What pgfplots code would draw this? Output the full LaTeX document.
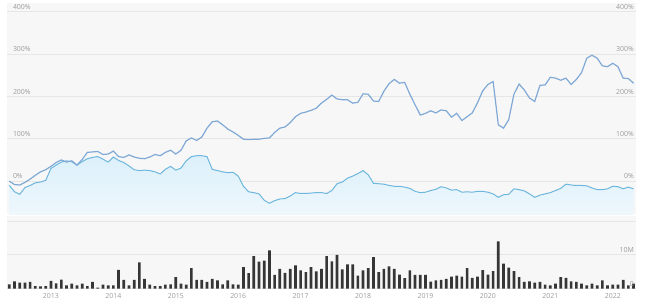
\documentclass[border=0pt]{standalone}
\usepackage{pgfplots}
\usepackage{pgfplotstable}
\pgfplotsset{compat=1.18}
\usepackage{fontspec}
\setmainfont{Open Sans}
\definecolor{bg}{HTML}{F7F7F7}
\definecolor{gridc}{HTML}{E6E6E6}
\definecolor{lab}{HTML}{9C9C9C}
\definecolor{upl}{HTML}{80A9D5}
\definecolor{lowl}{HTML}{6DB7DE}
\definecolor{filltop}{HTML}{DCF0FB}
\definecolor{fillbot}{HTML}{EEF7FC}
\definecolor{barc}{HTML}{363636}

\pgfplotstableread{
m u l
-8 0 -10
-7 -8 -25
-6 -9 -31
-5 -3 -15
-4 5 -10
-3 14 -4
-2 22 -2
-1 27 2
0 35 30
1 44 38
2 50 45
3 45 48
4 48 46
5 38 38
6 51 46
7 68 53
8 69 56
9 70 58
10 63 52
11 64 45
12 71 57
13 58 49
14 56 44
15 62 36
16 57 27
17 54 25
18 53 26
19 57 25
20 63 22
21 60 17
22 68 28
23 73 35
24 64 26
25 73 31
26 95 48
27 102 58
28 96 60
29 104 60
30 125 58
31 140 28
32 142 25
33 133 22
34 123 20
35 116 21
36 108 12
37 99 -12
38 98 -25
39 99 -27
40 99 -30
41 101 -45
42 102 -52
43 115 -46
44 125 -42
45 128 -41
46 138 -35
47 152 -27
48 160 -29
49 163 -29
50 167 -28
51 172 -27
52 184 -27
53 193 -29
54 203 -22
55 194 -6
56 192 -2
57 192 7
58 184 12
59 186 18
60 206 25
61 205 15
62 189 -5
63 188 -6
64 212 -7
65 230 -10
66 240 -12
67 231 -12
68 233 -14
69 205 -17
70 180 -24
71 156 -27
72 160 -26
73 166 -22
74 161 -19
75 168 -13
76 166 -16
77 151 -21
78 160 -20
79 143 -26
80 152 -25
81 161 -26
82 185 -24
83 213 -24
84 228 -26
85 235 -30
86 133 -38
87 125 -32
88 145 -31
89 205 -18
90 229 -20
91 215 -23
92 196 -30
93 188 -38
94 226 -33
95 227 -30
96 245 -27
97 243 -22
98 238 -17
99 243 -7
100 228 -9
101 240 -10
102 256 -10
103 290 -11
104 297 -16
105 290 -20
106 272 -20
107 270 -18
108 278 -12
109 270 -13
110 243 -18
111 242 -14
112 231 -18
}\lines

\pgfplotstableread{
m v
-8 1.3
-7 2.2
-6 1.8
-5 1.8
-4 2.0
-3 0.8
-2 0.7
-1 0.8
0 2.3
1 1.6
2 2.7
3 1.0
4 1.5
5 1.0
6 1.5
7 0.8
8 2.0
9 0.3
10 1.2
11 1.0
12 1.0
13 5.6
14 2.6
15 1.0
16 2.6
17 7.8
18 2.9
19 1.2
20 0.8
21 0.8
22 1.2
23 1.3
24 3.4
25 1.5
26 1.2
27 6.1
28 2.6
29 2.6
30 2.0
31 2.9
32 2.5
33 1.3
34 2.5
35 1.3
36 1.2
37 6.4
38 4.6
39 9.6
40 8.0
41 8.3
42 11.3
43 4.1
44 5.9
45 4.7
46 5.9
47 6.9
48 5.4
49 4.9
50 6.4
51 5.1
52 5.9
53 9.6
54 8.1
55 10.0
56 5.7
57 7.2
58 7.2
59 3.9
60 5.4
61 6.1
62 9.3
63 4.9
64 5.9
65 6.6
66 5.9
67 4.2
68 3.1
69 5.4
70 4.1
71 4.1
72 4.1
73 2.1
74 2.5
75 2.6
76 2.9
77 3.6
78 3.9
79 3.6
80 6.1
81 3.2
82 3.6
83 5.5
84 4.2
85 5.2
86 14.0
87 7.4
88 6.2
89 5.2
90 3.4
91 2.0
92 2.2
93 1.8
94 2.0
95 1.2
96 1.0
97 1.5
98 3.4
99 3.2
100 2.2
101 2.0
102 1.5
103 1.0
104 1.5
105 1.0
106 2.5
107 1.0
108 1.2
109 1.2
110 2.6
111 1.0
112 1.5
}\vol

\begin{document}
\begin{tikzpicture}
\path (0pt,0pt) rectangle (650pt,305pt);
\pgfplotsset{
 base/.style={
  scale only axis, width=632pt, xmin=-8.48, xmax=112.48,
  axis line style={draw=none}, tick style={draw=none}, major tick length=0pt,
  ticklabel style={font=\fontsize{7}{8}\selectfont, text=lab},
 },
 panel/.style={base, axis background/.style={fill=bg},
  grid style={gridc, line width=0.8pt}, ymajorgrids},
 rightlab/.style={base, yticklabel pos=right, xtick=\empty,
  yticklabel style={anchor=south east, inner sep=0pt, xshift=-2pt, yshift=2pt}},
}
% top panel
\begin{axis}[panel, at={(4pt,90pt)}, anchor=south west, height=212pt,
  ymin=-77.5, ymax=420.2,
  ytick={0,100,200,300,400}, yticklabels={0\%,100\%,200\%,300\%,400\%},
  yticklabel style={anchor=south west, inner sep=0pt, xshift=6pt, yshift=2pt},
  xtick=\empty]
 \addplot[draw=none, top color=filltop, bottom color=fillbot] table[x=m,y=l]{\lines} |- (axis cs:-8,-80) -- cycle;
 \addplot[lowl, line width=1pt] table[x=m,y=l]{\lines};
 \addplot[upl, line width=1.2pt] table[x=m,y=u]{\lines};
\end{axis}
\begin{axis}[rightlab, at={(4pt,90pt)}, anchor=south west, height=212pt,
  ymin=-77.5, ymax=420.2,
  ytick={0,100,200,300,400}, yticklabels={0\%,100\%,200\%,300\%,400\%}]
 \addplot[draw=none] coordinates {(0,0)};
\end{axis}
% bottom panel
\begin{axis}[panel, at={(4pt,15pt)}, anchor=south west, height=73pt,
  ymin=0, ymax=21.47, ytick={0,10,20}, yticklabels={,,},
  xtick={0,12,...,108},
  xticklabels={2013,2014,2015,2016,2017,2018,2019,2020,2021,2022},
  xticklabel style={anchor=north, inner sep=0pt, yshift=-5pt}]
 \addplot[ybar, bar width=2.7pt, fill=barc, draw=none] table[x=m,y=v]{\vol};
\end{axis}
\begin{axis}[rightlab, at={(4pt,15pt)}, anchor=south west, height=73pt,
  ymin=0, ymax=21.47, ytick={0,10,20}, yticklabels={0,10M,}]
 \addplot[draw=none] coordinates {(0,0)};
\end{axis}
\end{tikzpicture}
\end{document}
